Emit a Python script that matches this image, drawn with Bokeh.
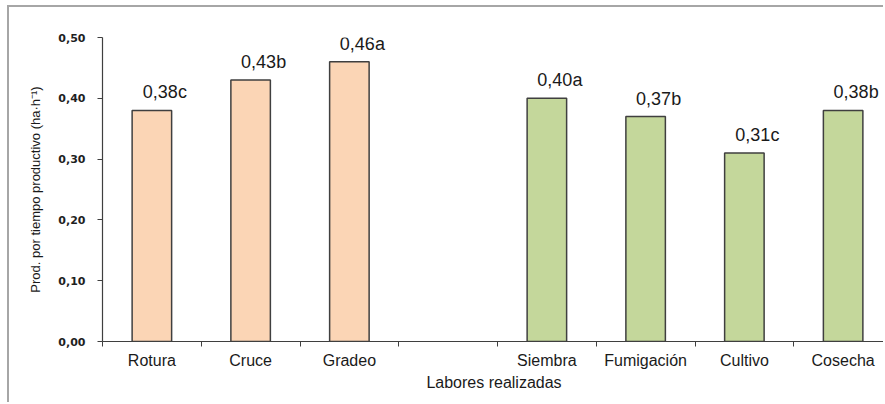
from bokeh.plotting import figure
from bokeh.models import ColumnDataSource, FixedTicker, Range1d, LabelSet
from bokeh.core.properties import value
from bokeh.embed import file_html
from bokeh.resources import INLINE

# Field operations, grouped: soil preparation first, then crop management
labores = ["Rotura", "Cruce", "Gradeo", "", "Siembra", "Fumigación", "Cultivo", "Cosecha"]
prod = [0.38, 0.43, 0.46, None, 0.40, 0.37, 0.31, 0.38]
letras = ["c", "b", "a", "", "a", "b", "c", "b"]
grupo = ["prep", "prep", "prep", "", "manejo", "manejo", "manejo", "manejo"]
y_ticks = [0.0, 0.1, 0.2, 0.3, 0.4, 0.5]

colores = {"prep": "#FBD5B5", "manejo": "#C4D79B"}

xs, tops, fills, textos = [], [], [], []
for i, (v, l, g) in enumerate(zip(prod, letras, grupo)):
    if v is None:
        continue
    xs.append(i)
    tops.append(v)
    fills.append(colores[g])
    textos.append(f"{v:.2f}".replace(".", ",") + l)

src = ColumnDataSource(dict(x=xs, top=tops, fill=fills, txt=textos))

n = len(labores)
p = figure(
    width=876, height=397,
    x_range=Range1d(-0.5, -0.5 + (876 - 93) / 98.75),
    y_range=Range1d(0, 0.5),
    output_backend="svg", toolbar_location=None,
    min_border_left=93, min_border_right=0, min_border_top=30, min_border_bottom=63,
    styles={"margin-left": "7px", "margin-top": "5px",
            "border-left": "2px solid #a6a6a6", "border-top": "2px solid #a6a6a6"},
)
p.outline_line_color = None
p.grid.visible = False
p.background_fill_color = "white"
p.border_fill_color = "white"

p.vbar(x="x", top="top", width=0.4, bottom=0, source=src,
       fill_color="fill", line_color="#3f3f3f", line_width=1.5)

labels = LabelSet(x="x", y="top", text="txt", source=src,
                  text_align="center", text_baseline="bottom",
                  x_offset=13, y_offset=8,
                  text_font=value("Liberation Sans"), text_font_size="18px",
                  text_color="#1a1a1a")
p.add_layout(labels)

# x axis: labels at category centres, tick marks between categories
xa = p.xaxis[0]
xa.ticker = FixedTicker(ticks=[i for i, c in enumerate(labores) if c],
                        minor_ticks=[i - 0.5 for i in range(n + 1)])
xa.major_label_overrides = {i: c for i, c in enumerate(labores) if c}
xa.major_tick_out = 0
xa.major_tick_in = 0
xa.minor_tick_out = 5
xa.minor_tick_in = 0
xa.minor_tick_line_color = "#3f3f3f"
xa.axis_line_color = "#3f3f3f"
xa.axis_line_width = 1.2
xa.major_label_text_font = "Liberation Sans"
xa.major_label_text_font_size = "16px"
xa.major_label_text_color = "#1a1a1a"
xa.major_label_standoff = 5
xa.axis_label = "Labores realizadas"
xa.axis_label_text_font = "Liberation Sans"
xa.axis_label_text_font_size = "16px"
xa.axis_label_text_font_style = "normal"
xa.axis_label_text_color = "#1a1a1a"
xa.axis_label_standoff = 2

ya = p.yaxis[0]
ya.ticker = FixedTicker(ticks=y_ticks, minor_ticks=[])
ya.major_label_overrides = {t: f"{t:.2f}".replace(".", ",") for t in y_ticks}
ya.major_tick_out = 5
ya.major_tick_in = 0
ya.major_tick_line_color = "#3f3f3f"
ya.axis_line_color = "#3f3f3f"
ya.axis_line_width = 1.2
ya.major_label_text_font = "DejaVu Sans"
ya.major_label_text_font_style = "bold"
ya.major_label_text_font_size = "11px"
ya.major_label_text_color = "#1f1f1f"
ya.major_label_standoff = 12
ya.axis_label = "Prod. por tiempo productivo (ha·h⁻¹)"
ya.axis_label_text_font = "Liberation Sans"
ya.axis_label_text_font_size = "13px"
ya.axis_label_text_font_style = "normal"
ya.axis_label_text_color = "#1a1a1a"
ya.axis_label_standoff = 12

open("out.html", "w").write(file_html(p, INLINE))
